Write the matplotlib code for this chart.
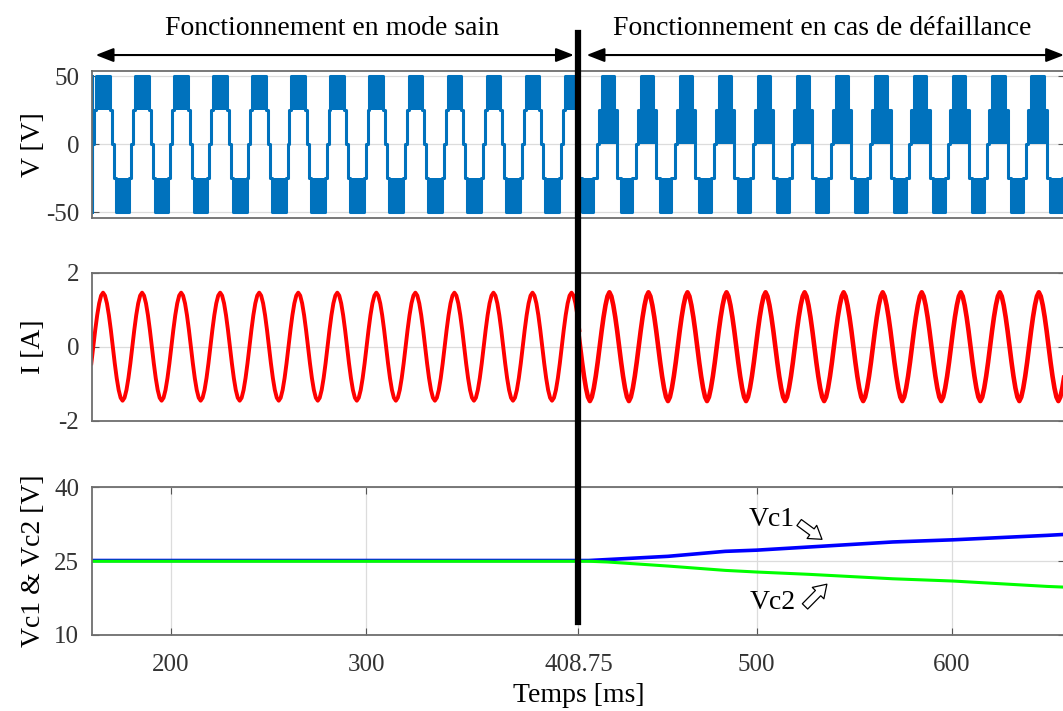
import numpy as np
import matplotlib
matplotlib.use('Agg')
import matplotlib.pyplot as plt
from matplotlib import transforms
from matplotlib.lines import Line2D

plt.rcParams['font.family'] = ['Liberation Serif', 'DejaVu Serif']
plt.rcParams['axes.unicode_minus'] = False

# time axis (ms)
t_start, t_end = 159.3, 658.0
t_fault = 408.75
period = 20.0

# output voltage: one period (offset in ms -> level in V)
healthy_edges = [0, 0.5, 1.5, 8.5, 9.5, 10.5, 11.5, 18.5, 19.5, 20]
healthy_levels = [0, 25, 50, 25, 0, -25, -50, -25, 0]
healthy_bands = [(1.5, 8.5, 25, 50), (11.5, 18.5, -50, -25)]   # PWM zones
healthy_first = 140.2

fault_edges = [0, 1.6, 7.8, 9.4, 11.2, 17.2, 18.8, 20]
fault_levels = [25, 50, 25, -25, -50, -25, 0]
fault_bands = [(0, 9.4, 0, 25), (1.6, 7.8, 25, 50), (11.2, 17.2, -50, -25)]
fault_first = 399.2

# load current: one period sampled every 1 ms
current_step = 1.0
current_healthy = [0.0, 0.45, 0.85, 1.17, 1.38, 1.46, 1.38, 1.17, 0.85, 0.45,
                   0.0, -0.45, -0.85, -1.17, -1.38, -1.46, -1.38, -1.17, -0.85, -0.45]
current_fault = [0.0, 0.42, 0.8, 1.12, 1.36, 1.47, 1.36, 1.12, 0.8, 0.42,
                 0.0, -0.42, -0.8, -1.12, -1.36, -1.47, -1.36, -1.12, -0.8, -0.42]
current_healthy_first = 140.2
current_fault_first = 399.6

# capacitor voltages
vc_time = [159.3, 408.75, 414.0, 423.7, 454.6, 483.9, 500.0, 526.8, 569.7, 600.7, 648.8, 658.0]
vc1 = [25.1, 25.1, 25.1, 25.3, 25.95, 26.96, 27.2, 27.84, 28.86, 29.3, 30.2, 30.4]
vc2 = [24.95, 24.95, 24.95, 24.8, 23.98, 23.1, 22.77, 22.3, 21.4, 20.94, 19.85, 19.7]

xticks = [200, 300, 408.75, 500, 600]
xticklabels = ['200', '300', '408.75', '500', '600']


def staircase(first, edges, levels, lo, hi):
    ts, vs = [], []
    t0 = first
    while t0 < hi:
        for i, lv in enumerate(levels):
            ts += [t0 + edges[i], t0 + edges[i + 1]]
            vs += [lv, lv]
        t0 += period
    return np.clip(ts, lo, hi), np.array(vs)


def draw_bands(ax, first, spans, lo, hi, color):
    t0 = first
    while t0 < hi:
        for a, b, y0, y1 in spans:
            a, b = max(t0 + a, lo), min(t0 + b, hi)
            if a < b:
                ax.fill_between([a, b], y0, y1, color=color, lw=0)
        t0 += period


def tiled(first, shape, lo, hi):
    ts, vs = [], []
    t0 = first
    while t0 < hi + period:
        ts += [t0 + k * current_step for k in range(len(shape))]
        vs += list(shape)
        t0 += period
    ts, vs = np.array(ts), np.array(vs)
    keep = (ts >= lo - current_step) & (ts <= hi + current_step)
    return ts[keep], vs[keep]


fig = plt.figure(figsize=(10.63, 7.11), dpi=100)
left, width = 0.0861, 0.9158
ax1 = fig.add_axes([left, 0.6938, width, 0.2063])
ax2 = fig.add_axes([left, 0.4083, width, 0.2082])
ax3 = fig.add_axes([left, 0.1069, width, 0.2081])

blue = '#0072BD'
# voltage
t, v = staircase(healthy_first, healthy_edges, healthy_levels, t_start, t_fault)
ax1.plot(t, v, color=blue, lw=2.2)
draw_bands(ax1, healthy_first, healthy_bands, t_start, t_fault, blue)
t, v = staircase(fault_first, fault_edges, fault_levels, t_fault, t_end)
ax1.plot(t, v, color=blue, lw=2.2)
draw_bands(ax1, fault_first, fault_bands, t_fault, t_end, blue)
ax1.set_ylim(-54, 54)
ax1.set_yticks([-50, 0, 50])
ax1.set_ylabel('V [V]', fontsize=20)

# current
t, i = tiled(current_healthy_first, current_healthy, t_start, t_fault)
ax2.plot(t, i, color='red', lw=2.8)
t, i = tiled(current_fault_first, current_fault, t_fault, t_end)
ax2.plot(t, i, color='red', lw=3.3)
ax2.set_ylim(-2, 2)
ax2.set_yticks([-2, 0, 2])
ax2.set_ylabel('I [A]', fontsize=20)

# capacitor voltages
ax3.plot(vc_time, vc1, color='#0000FF', lw=2.6)
ax3.plot(vc_time, vc2, color='#00FF00', lw=2.2)
ax3.set_ylim(10, 40)
ax3.set_yticks([10, 25, 40])
ax3.set_ylabel('Vc1 & Vc2 [V]', fontsize=20)
ax3.set_xticks(xticks)
ax3.set_xticklabels(xticklabels)
ax3.grid(True, axis='x', color='#dcdcdc', lw=0.9)

ax3.text(507.8, 33.4, 'Vc1', fontsize=20, ha='center', va='center')
ax3.text(508.3, 16.5, 'Vc2', fontsize=20, ha='center', va='center')
block = dict(arrowstyle='simple,head_length=0.5,head_width=0.65,tail_width=0.3',
             fc='white', ec='black', lw=0.9, shrinkA=0, shrinkB=0, mutation_scale=18)
ax3.annotate('', xy=(533.5, 29.4), xytext=(521.8, 32.8), arrowprops=block)
ax3.annotate('', xy=(536.0, 20.3), xytext=(524.8, 15.8), arrowprops=block)

for ax in (ax1, ax2, ax3):
    ax.set_xlim(t_start, t_end)
    ax.grid(True, axis='y', color='#dcdcdc', lw=0.9)
    ax.set_axisbelow(True)
    ax.tick_params(direction='in', length=5, width=0.8, color='#555555',
                   labelsize=18, labelcolor='#333333', right=True, top=True, pad=9)
    for s in ax.spines.values():
        s.set_color('#6e6e6e')
        s.set_linewidth(1.3)
    ax.yaxis.set_label_coords(-0.047, 0.5)
for ax in (ax1, ax2):
    ax.set_xticks([])
ax3.tick_params(axis='x', pad=14)
ax3.set_xlabel('Temps [ms]', fontsize=20, labelpad=5)

# fault instant and the two operating regions
trans = transforms.blended_transform_factory(ax3.transData, fig.transFigure)
fig.add_artist(Line2D([t_fault, t_fault], [0.1252, 0.9536], transform=trans,
                      color='black', lw=4.5))
head = dict(arrowstyle='<|-|>,head_length=0.9,head_width=0.35', color='black',
            lw=1.5, shrinkA=0, shrinkB=0, mutation_scale=12)
ax1.annotate('', xy=(161.4, 0.9226), xytext=(406.4, 0.9226), xycoords=trans,
             textcoords=trans, arrowprops=head, annotation_clip=False)
ax1.annotate('', xy=(412.9, 0.9226), xytext=(657.5, 0.9226), xycoords=trans,
             textcoords=trans, arrowprops=head, annotation_clip=False)
fig.text(282.8, 0.9508, 'Fonctionnement en mode sain', transform=trans,
         fontsize=20, ha='center', va='baseline')
fig.text(533.4, 0.9508, 'Fonctionnement en cas de défaillance', transform=trans,
         fontsize=20, ha='center', va='baseline')

fig.savefig('out.png', dpi=100)
